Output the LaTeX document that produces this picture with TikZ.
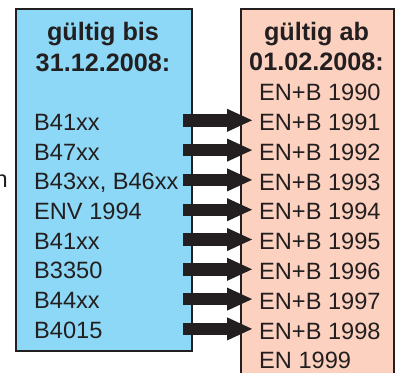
\documentclass[tikz,border=0pt]{standalone}
\usepackage{fontspec}
\setmainfont{Liberation Sans}
\usetikzlibrary{arrows.meta}
\definecolor{lblue}{RGB}{140,216,246}
\definecolor{salmon}{RGB}{252,209,191}
\definecolor{ink}{RGB}{35,31,32}
\tikzset{
  item/.style={anchor=base west, inner sep=0pt, font=\fontsize{23.6}{23.6}\selectfont, text=ink},
  headtxt/.style={anchor=base, inner sep=0pt, font=\bfseries\fontsize{25.2}{25.2}\selectfont, text=ink},
  boxline/.style={draw=ink, line width=1.2pt},
  blockarrow/.style={draw=ink, line width=12.4pt, -{Triangle[length=26pt, width=21pt]}}
}
\begin{document}
\begin{tikzpicture}[x=1pt, y=-1pt]
\useasboundingbox (0,0) rectangle (401,372);
\clip (0,0) rectangle (401,372);
% boxes
\fill[gray!60] (17.2,10.2) rectangle (193.2,352.2);
\filldraw[boxline, fill=lblue] (16,9) rectangle (192,351);
\filldraw[boxline, fill=salmon] (241,9) rectangle (394,390);
% headers
\node[headtxt] (lh1) at (103,40.5) {gültig bis};
\node[headtxt] (lh2) at (103,71) {31.12.2008:};
\node[headtxt] (rh1) at (316.5,40) {gültig ab};
\node[headtxt] (rh2) at (316.5,70) {01.02.2008:};
% left items
\node[item] (l1) at (34,130.3) {B41xx};
\node[item] (l2) at (34,160.0) {B47xx};
\node[item] (l3) at (34,189.7) {B43xx, B46xx};
\node[item] (l4) at (34,219.4) {ENV 1994};
\node[item] (l5) at (34,249.1) {B41xx};
\node[item] (l6) at (34,278.8) {B3350};
\node[item] (l7) at (34,308.5) {B44xx};
\node[item] (l8) at (34,338.2) {B4015};
% cut text at left
\node[item, anchor=base east] (cut) at (8,187) {n};
% right items
\node[item] (r0) at (259,100.7) {EN+B 1990};
\node[item] (r1) at (259,130.5) {EN+B 1991};
\node[item] (r2) at (259,160.3) {EN+B 1992};
\node[item] (r3) at (259,190.1) {EN+B 1993};
\node[item] (r4) at (259,219.9) {EN+B 1994};
\node[item] (r5) at (259,249.7) {EN+B 1995};
\node[item] (r6) at (259,279.5) {EN+B 1996};
\node[item] (r7) at (259,309.3) {EN+B 1997};
\node[item] (r8) at (259,339.1) {EN+B 1998};
\node[item] (r9) at (259,368.0) {EN 1999};
% arrows
\foreach \i/\yy in {1/120.3,2/150.1,3/179.9,4/209.7,5/239.5,6/269.3,7/299.1,8/328.9}{
  \coordinate (s\i) at (183,\yy);
  \coordinate (e\i) at (253,\yy);
  \draw[blockarrow] (s\i) -- (e\i);
}
\end{tikzpicture}
\end{document}
